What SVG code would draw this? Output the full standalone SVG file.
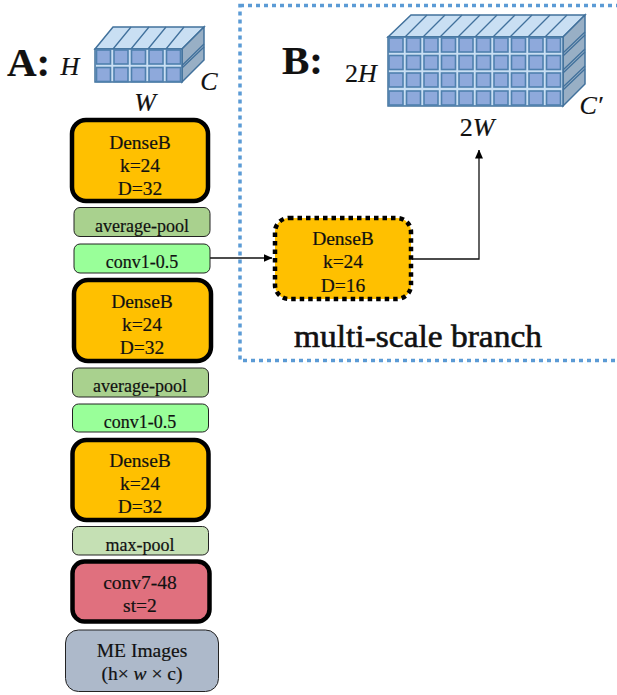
<svg xmlns="http://www.w3.org/2000/svg" width="617" height="695" viewBox="0 0 617 695">
<style>
text{font-family:"Liberation Serif",serif;fill:#111;text-anchor:middle;stroke:#111;stroke-width:.2}
.t{font-size:19.500px}
.s{font-size:18px}
.m{font-size:26px;font-style:italic}
.u{font-style:normal}
.h{font-size:41px;font-weight:bold;text-anchor:start}
.thick{stroke:#000;stroke-width:4.500}
.thin{stroke:#222;stroke-width:1}
.top{fill:#C9DFF3;stroke:#41719C;stroke-width:1.500}
.side{fill:#98AFC5;stroke:#41719C;stroke-width:1.500}
.front{fill:#C9DFF3;stroke:#41719C;stroke-width:1.500}
.cell{fill:#8EA9DB;stroke:#4F80AE;stroke-width:1.600}
.conn{fill:none;stroke:#111;stroke-width:1.300}
</style>
<defs>
<marker id="arr" markerWidth="9" markerHeight="8" refX="8.500" refY="4" orient="auto" markerUnits="userSpaceOnUse"><path d="M0 0L9 4L0 8Z" fill="#000"/></marker>
<rect id="c" class="cell" width="14" height="14"/>
</defs>
<rect id="branch-border" x="240" y="5.500" width="390" height="355" fill="none" stroke="#5B9BD5" stroke-width="3.500" stroke-dasharray="4 4"/>
<text class="h" x="7" y="76">A:</text>
<text class="h" x="282" y="74">B:</text>
<g id="cube-a">
<path class="top" d="M95 49L113 27H204L182 49Z"/>
<path class="side" d="M182 49L204 27V60L182 82Z"/>
<path class="front" d="M95 49H182V82H95Z"/>
<path fill="none" stroke="#41719C" stroke-width="1.300" d="M113 49L131 27M131 49L149 27M148 49L166 27M166 49L184 27M182 65.500L204 44M182 68L204 47"/>
<use href="#c" x="96.500" y="50"/><use href="#c" x="114" y="50"/><use href="#c" x="131.500" y="50"/><use href="#c" x="149" y="50"/><use href="#c" x="166.500" y="50"/>
<use href="#c" x="96.500" y="67.500"/><use href="#c" x="114" y="67.500"/><use href="#c" x="131.500" y="67.500"/><use href="#c" x="149" y="67.500"/><use href="#c" x="166.500" y="67.500"/>
<text class="m" x="70" y="75">H</text>
<text class="m" x="209" y="90">C</text>
<text class="m" x="145" y="111">W</text>
</g>
<g id="cube-b">
<path class="top" d="M388 37L411 15H585L563 37Z"/>
<path class="side" d="M563 37L585 15V84L563 106Z"/>
<path class="front" d="M388 37H563V106H388Z"/>
<path fill="none" stroke="#41719C" stroke-width="1.300" d="M405 37L427 15M423 37L445 15M440 37L462 15M458 37L480 15M475 37L497 15M493 37L515 15M510 37L532 15M528 37L550 15M545 37L567 15M563 53L585 32M563 56L585 35M563 70L585 49M563 73L585 52M563 87L585 66M563 90L585 69"/>
<g id="cells-b">
<use href="#c" x="389" y="38"/><use href="#c" x="406.500" y="38"/><use href="#c" x="424" y="38"/><use href="#c" x="441.500" y="38"/><use href="#c" x="459" y="38"/><use href="#c" x="476.500" y="38"/><use href="#c" x="494" y="38"/><use href="#c" x="511.500" y="38"/><use href="#c" x="529" y="38"/><use href="#c" x="546.500" y="38"/>
<use href="#c" x="389" y="55.500"/><use href="#c" x="406.500" y="55.500"/><use href="#c" x="424" y="55.500"/><use href="#c" x="441.500" y="55.500"/><use href="#c" x="459" y="55.500"/><use href="#c" x="476.500" y="55.500"/><use href="#c" x="494" y="55.500"/><use href="#c" x="511.500" y="55.500"/><use href="#c" x="529" y="55.500"/><use href="#c" x="546.500" y="55.500"/>
<use href="#c" x="389" y="73"/><use href="#c" x="406.500" y="73"/><use href="#c" x="424" y="73"/><use href="#c" x="441.500" y="73"/><use href="#c" x="459" y="73"/><use href="#c" x="476.500" y="73"/><use href="#c" x="494" y="73"/><use href="#c" x="511.500" y="73"/><use href="#c" x="529" y="73"/><use href="#c" x="546.500" y="73"/>
<use href="#c" x="389" y="91"/><use href="#c" x="406.500" y="91"/><use href="#c" x="424" y="91"/><use href="#c" x="441.500" y="91"/><use href="#c" x="459" y="91"/><use href="#c" x="476.500" y="91"/><use href="#c" x="494" y="91"/><use href="#c" x="511.500" y="91"/><use href="#c" x="529" y="91"/><use href="#c" x="546.500" y="91"/>
</g>
<text class="m" x="361" y="82"><tspan class="u">2</tspan>H</text>
<text class="m" x="477" y="136"><tspan class="u">2</tspan>W</text>
<text class="m" x="591" y="114">C′</text>
</g>
<g id="connectors">
<path class="conn" marker-end="url(#arr)" d="M210 258H272"/>
<path class="conn" marker-end="url(#arr)" d="M412 259H479V150"/>
</g>
<g id="dense-1"><rect class="thick" x="72" y="120" width="136" height="81" rx="14" fill="#FFC000"/><text class="t" x="140" y="149">DenseB</text><text class="t" x="140" y="172">k=24</text><text class="t" x="140" y="195">D=32</text></g>
<g id="avg-pool-1"><rect class="thin" x="74" y="207.500" width="136" height="29" rx="6" fill="#A9D18E"/><text class="s" x="142" y="232">average-pool</text></g>
<g id="conv-1"><rect class="thin" x="74" y="244" width="136" height="29" rx="6" fill="#99FF99"/><text class="s" x="142" y="268">conv1-0.5</text></g>
<g id="dense-2"><rect class="thick" x="74" y="280" width="137" height="81" rx="14" fill="#FFC000"/><text class="t" x="142" y="308">DenseB</text><text class="t" x="142" y="331">k=24</text><text class="t" x="142" y="354">D=32</text></g>
<g id="avg-pool-2"><rect class="thin" x="72.500" y="368" width="136" height="29" rx="6" fill="#A9D18E"/><text class="s" x="140" y="392">average-pool</text></g>
<g id="conv-2"><rect class="thin" x="72.500" y="404" width="136" height="28" rx="6" fill="#99FF99"/><text class="s" x="140" y="428">conv1-0.5</text></g>
<g id="dense-3"><rect class="thick" x="72.500" y="440" width="136" height="80" rx="14" fill="#FFC000"/><text class="t" x="140" y="467">DenseB</text><text class="t" x="140" y="490">k=24</text><text class="t" x="140" y="513">D=32</text></g>
<g id="max-pool"><rect class="thin" x="72.500" y="526.500" width="136" height="28.500" rx="6" fill="#C5E0B4"/><text class="s" x="140" y="551">max-pool</text></g>
<g id="conv-7"><rect class="thick" x="72.500" y="561.500" width="137" height="60" rx="12" fill="#E0707E"/><text class="t" x="140" y="589">conv7-48</text><text class="t" x="140" y="612">st=2</text></g>
<g id="me-images"><rect class="thin" x="65.500" y="630" width="153" height="61.500" rx="13" fill="#ADB9CA"/><text class="t" x="142" y="657">ME Images</text><text class="t" x="142" y="680">(h× <tspan font-style="italic">w</tspan> × c)</text></g>
<g id="dense-b"><rect x="275" y="218" width="136" height="81" rx="14" fill="#FFC000" stroke="#000" stroke-width="4.500" stroke-dasharray="4.500 4"/><text class="t" x="343" y="245">DenseB</text><text class="t" x="343" y="268">k=24</text><text class="t" x="343" y="292">D=16</text></g>
<text x="418" y="347" font-size="32" textLength="248" lengthAdjust="spacingAndGlyphs" style="stroke-width:.6">multi-scale branch</text>
</svg>
